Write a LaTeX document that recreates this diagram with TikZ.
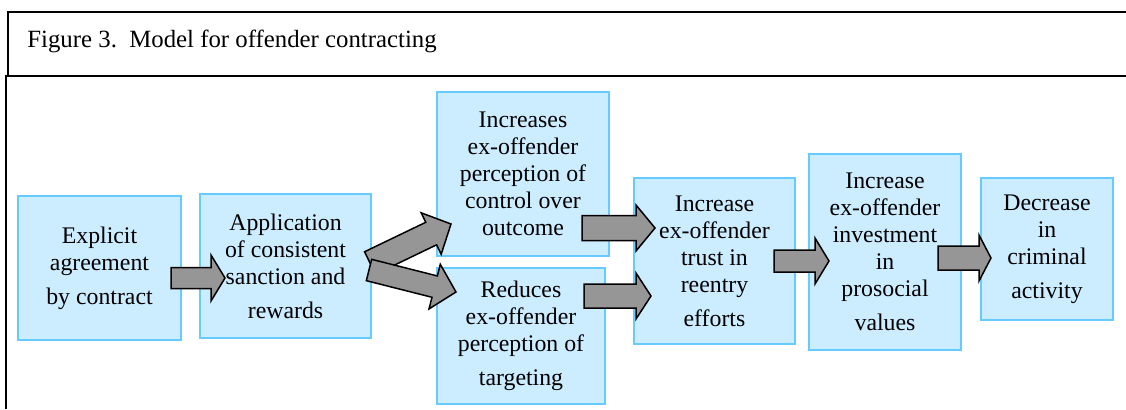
\documentclass[tikz,border=0pt]{standalone}
\usepackage{fontspec}
\setmainfont{Liberation Serif}
\usetikzlibrary{calc, positioning}
\definecolor{boxFill}{HTML}{CCECFF}
\definecolor{boxLine}{HTML}{66CCFF}
\definecolor{arrowFill}{HTML}{969696}
\tikzset{
    stepBox/.style={rectangle, draw=boxLine, fill=boxFill, line width=0.7pt, align=center, inner sep=0pt, font=\fontsize{11.9}{13.5}\selectfont},
    frameLine/.style={draw=black, line width=1pt},
    fatArrow/.style={draw=black, fill=arrowFill, line width=0.75pt, line join=miter},
}
% block arrow: #1 head length, #2 tail, #3 tip, #4 half shaft width
\newcommand{\drawBlock}[4][7.5pt]{
    \coordinate (hb) at ($(#3)!#1!(#2)$);
    \draw[fatArrow] ($(#2)!#4!90:(#3)$) -- ($(hb)!#4!90:(#3)$) -- ($(hb)!11.5pt!90:(#3)$) -- (#3)
        -- ($(hb)!11.5pt!-90:(#3)$) -- ($(hb)!#4!-90:(#3)$) -- ($(#2)!#4!-90:(#3)$) -- cycle;
}

\begin{document}
\begin{tikzpicture}[x=0.5pt, y=-0.5pt]

    \useasboundingbox (0,0) rectangle (1126,409);

    % frame and caption
    \draw[frameLine] (1126,12) -- (8,12) -- (8,76) -- (1126,76);
    \draw[frameLine] (6,409) -- (6,76) -- (8,76);
    \node[anchor=base west, inner sep=0pt, font=\fontsize{12.4}{14}\selectfont] (title) at (27,47) {Figure 3.\ \ Model for offender contracting};

    % steps
    \node[stepBox, minimum width=81.5pt, minimum height=72pt] (expl) at (99.5,268) {Explicit\\agreement\\[3.5pt]by contract};
    \node[stepBox, minimum width=85.5pt, minimum height=72pt] (apply) at (285.5,266) {Application\\of consistent\\sanction and\\[3.5pt]rewards};
    \node[stepBox, minimum width=86pt, minimum height=82pt] (ctrl) at (523,174) {Increases\\ex-offender\\perception of\\control over\\outcome};
    \node[stepBox, minimum width=84pt, minimum height=68pt] (target) at (521,336) {Reduces\\ex-offender\\perception of\\[3.5pt]targeting};
    \node[stepBox, minimum width=80.5pt, minimum height=83pt] (trust) at (714.5,261) {Increase\\ex-offender\\trust in\\reentry\\[3.5pt]efforts};
    \node[stepBox, minimum width=76pt, minimum height=98pt] (invest) at (885,252) {Increase\\ex-offender\\investment\\in\\prosocial\\[3.5pt]values};
    \node[stepBox, minimum width=66pt, minimum height=71pt] (crime) at (1047,249) {Decrease\\in\\criminal\\[3.5pt]activity};

    % arrow ends
    \coordinate (a1t) at (171,278);
    \coordinate (a1h) at (225,278);
    \coordinate (a2t) at (370,263);
    \coordinate (a2h) at (451,224);
    \coordinate (a3t) at (369,270);
    \coordinate (a3h) at (456,292);
    \coordinate (a4t) at (582,228);
    \coordinate (a4h) at (655,228);
    \coordinate (a5t) at (584,296);
    \coordinate (a5h) at (651,296);
    \coordinate (a6t) at (774,261);
    \coordinate (a6h) at (829,261);
    \coordinate (a7t) at (938,258);
    \coordinate (a7h) at (991,258);

    \drawBlock[7pt]{a1t}{a1h}{5.25pt}
    \drawBlock[11pt]{a2t}{a2h}{6.25pt}
    \drawBlock[11pt]{a3t}{a3h}{5.5pt}
    \drawBlock[9.5pt]{a4t}{a4h}{6.25pt}
    \drawBlock[7.5pt]{a5t}{a5h}{6pt}
    \drawBlock[7pt]{a6t}{a6h}{5.5pt}
    \drawBlock[6pt]{a7t}{a7h}{6pt}

\end{tikzpicture}
\end{document}
